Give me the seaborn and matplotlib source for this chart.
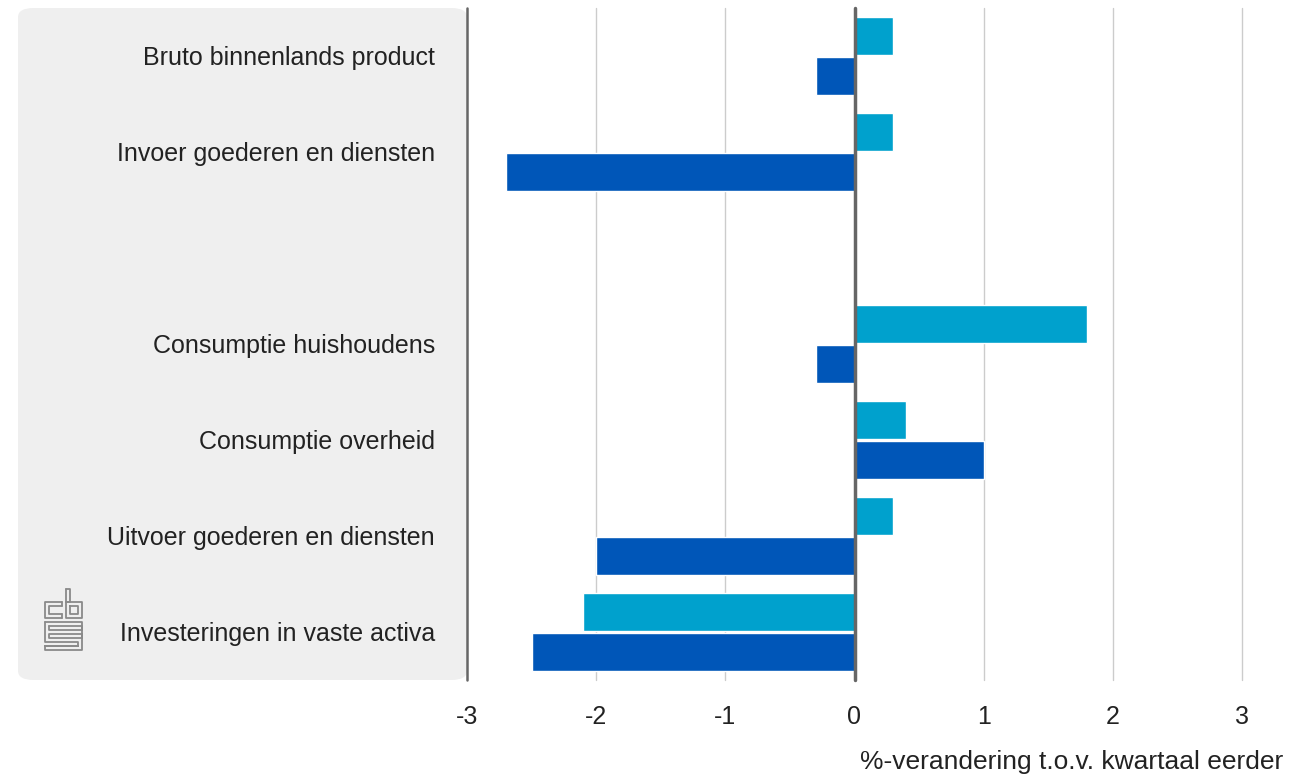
import matplotlib
matplotlib.use("Agg")
import matplotlib.pyplot as plt
import seaborn as sns
import pandas as pd
from matplotlib.patches import FancyBboxPatch
from matplotlib.lines import Line2D

categories = ["Bruto binnenlands product", "Invoer goederen en diensten", " ",
              "Consumptie huishoudens", "Consumptie overheid",
              "Uitvoer goederen en diensten", "Investeringen in vaste activa"]
series_names = ["Reeks 1", "Reeks 2"]
light_values = [0.3, 0.3, None, 1.8, 0.4, 0.3, -2.1]
dark_values = [-0.3, -2.7, None, -0.3, 1.0, -2.0, -2.5]
x_ticks = [-3, -2, -1, 0, 1, 2, 3]
x_label = "%-verandering t.o.v. kwartaal eerder"

rows = []
for c, lv, dv in zip(categories, light_values, dark_values):
    if lv is not None:
        rows.append({"cat": c, "serie": series_names[0], "val": lv})
        rows.append({"cat": c, "serie": series_names[1], "val": dv})
df = pd.DataFrame(rows)

sns.set_theme(style="white")
plt.rcParams["font.family"] = ["Liberation Sans", "DejaVu Sans"]

W, H = 1289, 776
FS = 18
fig = plt.figure(figsize=(W / 100, H / 100), dpi=100)

# grey panel behind category labels
panel = FancyBboxPatch((18 / W, 1 - 680 / H), (467 - 18) / W, (680 - 8) / H,
                       boxstyle="round,pad=0,rounding_size=0.012",
                       transform=fig.transFigure, facecolor="#efefef",
                       edgecolor="none", zorder=-5)
fig.patches.append(panel)

ax = fig.add_axes([467 / W, 1 - 680 / H, (1242 - 467) / W, (680 - 8) / H])
ax.set_facecolor("none")

sns.barplot(data=df, y="cat", x="val", hue="serie", order=categories,
            hue_order=series_names, palette=["#00a1cd", "#0056b8"],
            orient="h", width=0.82, gap=0.04, saturation=1, ax=ax, legend=False,
            zorder=3)

ax.set_xlim(-3, 3)
ax.set_xticks(x_ticks)
ax.set_xticklabels([str(t) for t in x_ticks], fontsize=FS, color="#222222")
ax.tick_params(axis="x", length=0, pad=18)
ax.tick_params(axis="y", length=0, pad=23)
for lbl in ax.get_yticklabels():
    lbl.set_fontsize(FS)
    lbl.set_color("#222222")
ax.set_ylabel("")
ax.set_xlabel("")

for s in ax.spines.values():
    s.set_visible(False)

for t in x_ticks:
    if t == 0:
        ax.axvline(t, color="#666666", lw=2.5, zorder=4, clip_on=False)
    elif t == -3:
        ax.axvline(t, color="#666666", lw=1.8, zorder=4, clip_on=False)
    else:
        ax.axvline(t, color="#cccccc", lw=1, zorder=1, clip_on=False)

fig.text(1283 / W, 1 - 762 / H, x_label, ha="right", va="center",
         fontsize=19, color="#222222")

# CBS logo approximation
lc = "#8a8a8a"
def seg(xs, ys):
    fig.add_artist(Line2D([x / W for x in xs], [1 - y / H for y in ys],
                          color=lc, lw=1.3, transform=fig.transFigure))
# c
seg([62, 45, 45, 62], [602, 602, 618, 618])
seg([62, 49, 49, 62], [606, 606, 614, 614])
seg([62, 62], [602, 606])
seg([62, 62], [614, 618])
# b
seg([66, 66, 82, 82, 66], [589, 618, 618, 602, 602])
seg([66, 70, 70, 66], [589, 589, 602, 602])
seg([70, 78, 78, 70, 70], [606, 606, 614, 614, 606])
# S maze
seg([45, 82, 82, 49, 49, 82, 82, 45, 45], [622, 622, 638, 638, 634, 634, 650, 650, 646])
seg([45, 45, 78, 78, 45, 45, 78, 78], [622, 642, 642, 646, 646, 646, 646, 646])
seg([49, 82, 82], [626, 626, 630])
seg([49, 49, 82], [626, 630, 630])

fig.savefig("out.png", dpi=100)
